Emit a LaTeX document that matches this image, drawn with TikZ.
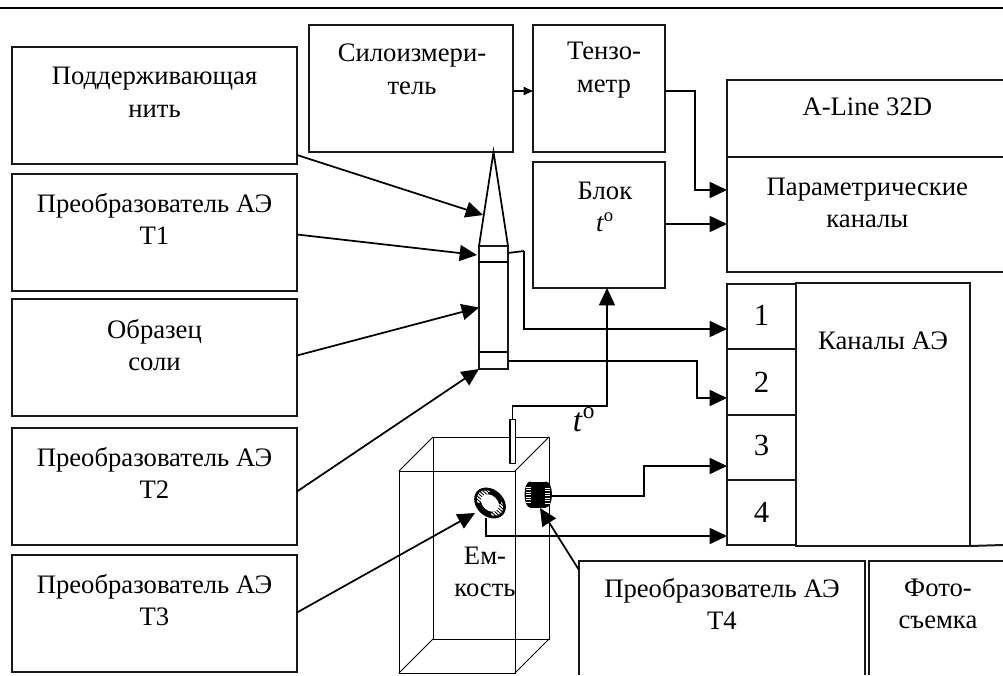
\documentclass[tikz,border=0pt]{standalone}
\usepackage{fontspec}
\setmainfont{Liberation Serif}
\usetikzlibrary{positioning,calc,arrows.meta}
\definecolor{framegray}{RGB}{25,25,25}

\begin{document}
\begin{tikzpicture}[
    x=0.75pt, y=-0.75pt,
    node distance=7.5pt and 9pt,
    blockbox/.style={rectangle, draw=framegray, line width=1.5pt, inner sep=0pt, outer sep=0pt},
    sidebox/.style={blockbox, minimum width=213.75pt, minimum height=87.75pt},
    cellbox/.style={blockbox, minimum width=51.75pt, minimum height=49pt},
    boxtext/.style={font=\fontsize{20}{24.5}\selectfont, align=center, inner sep=0pt},
    digittext/.style={font=\fontsize{23}{24.5}\selectfont, inner sep=0pt},
    wire/.style={line width=1.3pt, draw=black},
    arrow/.style={wire, -{Triangle[length=13pt,width=12pt]}},
    smallarrow/.style={wire, -{Triangle[length=7pt,width=6pt]}},
    thinline/.style={line width=0.7pt, draw=black}
]
\useasboundingbox (0,0) rectangle (1003,675);
\clip (0,0) rectangle (1003,675);
\draw[line width=1.5pt] (0,8) -- (1003,8);

% left column
\node[sidebox, anchor=north west] (thread) at (12,47) {};
\node[sidebox, below=7.5pt of thread] (t1box) {};
\node[sidebox, below=6pt of t1box] (samplebox) {};
\node[sidebox, below=9pt of samplebox] (t2box) {};
\node[sidebox, below=7.5pt of t2box] (t3box) {};
\node[boxtext] (threadtext) at ($(thread.north)+(0,45)$) {Поддерживающая\\нить};
\node[boxtext] (t1text) at ($(t1box.north)+(0,45)$) {Преобразователь АЭ\\Т1};
\node[boxtext] (sampletext) at ($(samplebox.north)+(0,46)$) {Образец\\соли};
\node[boxtext] (t2text) at ($(t2box.north)+(0,45)$) {Преобразователь АЭ\\Т2};
\node[boxtext] (t3text) at ($(t3box.north)+(0,45)$) {Преобразователь АЭ\\Т3};

% top row
\node[blockbox, minimum width=153pt, minimum height=95.25pt, anchor=north west] (force) at (309,25) {};
\node[blockbox, minimum width=99pt, minimum height=95.25pt, anchor=north west] (tenso) at (533,25) {};
\node[blockbox, minimum width=99pt, minimum height=94.5pt, anchor=north west] (tblock) at (533,162) {};
\node[boxtext] (forcetext) at ($(force.north)+(1,44)$) {Силоизмери-\\тель};
\node[boxtext] (tensotext) at ($(tenso.north)+(5,45)$) {Тензо-\\метр};
\node[boxtext] (tblocktext) at ($(tblock.north)+(6,45)$) {Блок\\\textit{t}\textsuperscript{o}};

% sensor on the sample
\node[blockbox, line width=1.1pt, minimum width=21.75pt, minimum height=92.25pt, anchor=north] (salt) at (493.5,246) {};
\draw[wire] (salt.north west) -- (force.south -| salt.north) -- (salt.north east);
\draw[wire] ($(salt.north west)+(0,16)$) -- ($(salt.north east)+(0,16)$);
\draw[wire] ($(salt.south west)+(0,-17)$) -- ($(salt.south east)+(0,-17)$);

% acquisition unit
\node[blockbox, minimum width=212pt, minimum height=57.75pt, anchor=north west] (aline) at (727,80) {};
\node[blockbox, minimum width=212pt, minimum height=86.25pt, below=0pt of aline] (param) {};
\node[cellbox, anchor=north west] (cell1) at (727,284) {};
\node[cellbox, below=0pt of cell1] (cell2) {};
\node[cellbox, below=0pt of cell2] (cell3) {};
\node[cellbox, below=0pt of cell3] (cell4) {};
\node[blockbox, minimum width=130.5pt, minimum height=197.25pt, anchor=north west] (aechan) at (796,283) {};
\draw[blockbox] (aechan.south east) -- (1003,545);
\node[boxtext] (alinetext) at ($(aline.north)+(-1,27)$) {A-Line 32D};
\node[boxtext] (paramtext) at ($(param.north)+(-1,46)$) {Параметрические\\каналы};
\node[boxtext] (aetext) at ($(aechan.north)+(0,58)$) {Каналы АЭ};
\node[digittext] (n1) at ($(cell1)+(0,-1)$) {1};
\node[digittext] (n2) at (cell2) {2};
\node[digittext] (n3) at ($(cell3)+(0,-2)$) {3};
\node[digittext] (n4) at (cell4) {4};

% bottom boxes run off the page
\coordinate (t4corner) at (579,561);
\coordinate (photocorner) at (869,561);
\draw[blockbox] (579,675) -- (t4corner) -- (865,561) -- (865,675);
\draw[blockbox] (869,675) -- (photocorner) -- (1003,561);
\node[boxtext] (t4text) at (722,604) {Преобразователь АЭ\\Т4};
\node[boxtext] (phototext) at (938,604) {Фото-\\съемка};

% tank
\coordinate (fa) at (399,471); \coordinate (fb) at (515,471);
\coordinate (fc) at (515,673); \coordinate (fd) at (399,673);
\coordinate (ba) at (433,437); \coordinate (bb) at (549,437);
\coordinate (bc) at (549,639); \coordinate (bd) at (433,639);
\draw[thinline] (fa) -- (fb) -- (fc) -- (fd) -- cycle;
\draw[thinline] (ba) -- (bb) -- (bc) -- (bd) -- cycle;
\draw[thinline] (fa) -- (ba) (fb) -- (bb) (fc) -- (bc) (fd) -- (bd);
\node[boxtext] (tanktext) at (485,572) {Ем-\\кость};
\node[rectangle, draw=black, fill=white, line width=1pt, minimum width=4pt, minimum height=33pt, inner sep=0pt, anchor=north] (probe) at (512.5,419) {};
\node[boxtext, font=\fontsize{25}{24.5}\selectfont, anchor=base] (tlabel) at (584,431) {\textit{t}\textsuperscript{o}};

% ring transducer
\begin{scope}[shift={(490,503)}, rotate=-42]
\fill[black] (0,0) circle [x radius=17.5, y radius=13.5];
\begin{scope}
\clip (0,0) circle [x radius=15, y radius=10.5];
\foreach \i in {-8,-5.5,...,8} \draw[white, line width=1pt] (-16,\i) -- (-8,\i) (8,\i) -- (16,\i);
\end{scope}
\fill[white] (0,0) circle [x radius=10, y radius=7.5];
\end{scope}
\coordinate (ringout) at (486,518);

% cylinder transducer
\fill[black] (530,494.5) circle [x radius=5.5, y radius=13];
\fill[black] (546,494.5) circle [x radius=6, y radius=13];
\fill[black] (530,481.5) rectangle (546,507.5);
\foreach \i in {487,489.5,...,503} \draw[white, line width=0.6pt] (526,\i) -- (531,\i);
\foreach \i in {488,490.5,...,503} \draw[white, line width=0.6pt] (545,\i) -- (550,\i);
\coordinate (cylout) at (552,496);

% connectors
\draw[smallarrow] ($(force.east)+(0,2.5)$) -- ($(tenso.west |- force.east)+(0,2.5)$);
\draw[arrow] ($(thread.south east)+(0,-9)$) -- (483,215);
\draw[arrow] ($(t1box.east)+(0,2)$) -- (477,255);
\draw[arrow] ($(samplebox.east)+(0,-2)$) -- (salt.west);
\draw[arrow] ($(t2box.east)+(0,5)$) -- (salt.south west);
\draw[arrow] ($(t3box.east)+(0,-1)$) -- (475,513);
\draw[arrow] ($(t4corner)+(0,9)$) -- (540,508);
\draw[wire] (salt.north east |- 0,253) -- (524,251) coordinate (bendone);
\draw[arrow] (bendone) |- (cell1.west |- 0,329);
\draw[arrow] (salt.east |- 0,361) -| (697,398) -- (cell2.west |- 0,398);
\draw[arrow] (probe.north) |- (607,406) -- (tblock.south -| 607,0);
\draw[arrow] (tenso.east |- 0,91) -| (695,190) -- (param.west |- 0,190);
\draw[arrow] (tblock.east |- 0,224) -- (param.west |- 0,224);
\draw[arrow] (cylout) -| (644,466) -- (cell3.west |- 0,466);
\draw[arrow] (ringout) |- (cell4.west |- 0,536);

\end{tikzpicture}
\end{document}
